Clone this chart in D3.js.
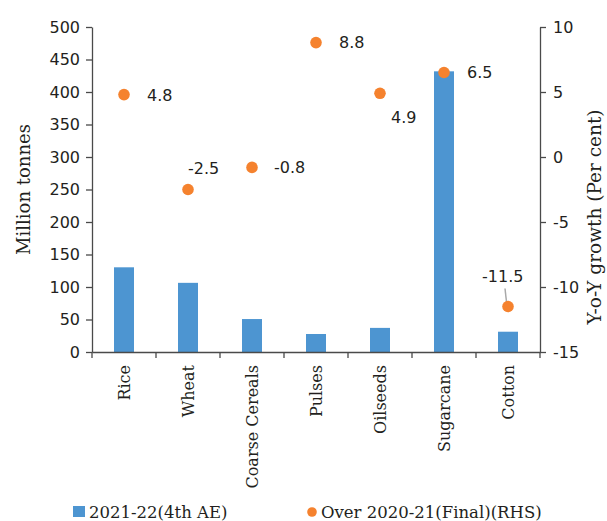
<!DOCTYPE html>
<html>
<head>
<meta charset="utf-8">
<script src="https://cdn.jsdelivr.net/npm/d3@7"></script>
<style>
  html, body { margin: 0; padding: 0; background: #fff; }
  svg { display: block; }
  .num { font-family: "DejaVu Sans", sans-serif; font-size: 16px; fill: #231f20; }
  .ser { font-family: "DejaVu Serif", serif; fill: #231f20; }
  .axis path, .axis line { stroke: #4a4a4a; stroke-width: 1.3px; }
</style>
</head>
<body>
<svg id="chart" width="607" height="521"></svg>
<script>
// Crop production 2021-22 (4th advance estimates) and y-o-y growth over 2020-21
const categories = ["Rice", "Wheat", "Coarse Cereals", "Pulses", "Oilseeds", "Sugarcane", "Cotton"];
const production = [130.3, 106.4, 50.7, 27.7, 37.1, 431.8, 31.2];   // million tonnes
const growth = [4.8, -2.5, -0.8, 8.8, 4.9, 6.5, -11.5];              // per cent (RHS)
const leftTicks = [0, 50, 100, 150, 200, 250, 300, 350, 400, 450, 500];
const rightTicks = [-15, -10, -5, 0, 5, 10];
const seriesNames = ["2021-22(4th AE)", "Over 2020-21(Final)(RHS)"];

// placement of each growth label relative to its dot
const labelShift = [[23, 1], [0, -21], [22, 0], [23, 0], [11, 24], [23, 0], [-26, -30]];

const blue = "#4d95d1", orange = "#f5822e";
const svg = d3.select("#chart");

const plotLeft = 92, plotRight = 540, plotTop = 27, plotBottom = 352;

const x = d3.scaleBand().domain(categories).range([plotLeft, plotRight]).paddingInner(0).paddingOuter(0);
const yL = d3.scaleLinear().domain([0, 500]).range([plotBottom, plotTop]);
const yR = d3.scaleLinear().domain([-15, 10]).range([plotBottom, plotTop]);

// plain hyphen for negatives
const fmt = d => String(d);

// bars
svg.append("g").selectAll("rect")
  .data(categories)
  .join("rect")
  .attr("x", d => x(d) + x.bandwidth() / 2 - 10)
  .attr("width", 20)
  .attr("y", (d, i) => yL(production[i]))
  .attr("height", (d, i) => yL(0) - yL(production[i]))
  .attr("fill", blue);

// left axis
const gL = svg.append("g").attr("class", "axis")
  .attr("transform", `translate(${plotLeft},0)`)
  .call(d3.axisLeft(yL).tickValues(leftTicks).tickFormat(fmt).tickSize(6).tickPadding(6).tickSizeOuter(0));
gL.selectAll("text").attr("class", "num").attr("font-family", null).attr("font-size", null);

// right axis
const gR = svg.append("g").attr("class", "axis")
  .attr("transform", `translate(${plotRight},0)`)
  .call(d3.axisRight(yR).tickValues(rightTicks).tickFormat(fmt).tickSize(6).tickPadding(7).tickSizeOuter(0));
gR.selectAll("text").attr("class", "num").attr("font-family", null).attr("font-size", null);

// bottom axis with ticks at category boundaries
const gB = svg.append("g").attr("class", "axis")
  .attr("transform", `translate(0,${plotBottom})`)
  .call(d3.axisBottom(x).tickSize(0).tickSizeOuter(0).tickFormat(""));
gB.selectAll(".tick").remove();
const bounds = categories.map(c => x(c)).concat([x(categories[categories.length - 1]) + x.bandwidth()]);
gB.selectAll("line.sep").data(bounds).join("line")
  .attr("class", "sep")
  .attr("x1", d => d).attr("x2", d => d)
  .attr("y1", 0).attr("y2", 6);

// category labels, rotated
svg.append("g").selectAll("text")
  .data(categories)
  .join("text")
  .attr("class", "ser")
  .attr("font-size", 16)
  .attr("text-anchor", "end")
  .attr("transform", d => `translate(${x(d) + x.bandwidth() / 2},365) rotate(-90)`)
  .attr("dy", "0.38em")
  .text(d => d);

// axis titles
svg.append("text").attr("class", "ser").attr("font-size", 18)
  .attr("text-anchor", "middle")
  .attr("transform", `translate(30,${(plotTop + plotBottom) / 2}) rotate(-90)`)
  .text("Million tonnes");
svg.append("text").attr("class", "ser").attr("font-size", 18.5)
  .attr("text-anchor", "middle")
  .attr("transform", `translate(601,217) rotate(-90)`)
  .text("Y-o-Y growth (Per cent)");

// leader line for the cotton label
const ci = categories.indexOf("Cotton");
const cx = x("Cotton") + x.bandwidth() / 2;
svg.append("line")
  .attr("x1", cx - 3).attr("y1", yR(growth[ci]) - 18)
  .attr("x2", cx - 1).attr("y2", yR(growth[ci]))
  .attr("stroke", "#a9a9a9").attr("stroke-width", 1.5);

// growth dots
svg.append("g").selectAll("circle")
  .data(categories)
  .join("circle")
  .attr("cx", d => x(d) + x.bandwidth() / 2)
  .attr("cy", (d, i) => yR(growth[i]))
  .attr("r", 5.8)
  .attr("fill", orange);

// growth labels
svg.append("g").selectAll("text")
  .data(categories)
  .join("text")
  .attr("class", "num")
  .attr("x", (d, i) => x(d) + x.bandwidth() / 2 + labelShift[i][0])
  .attr("y", (d, i) => yR(growth[i]) + labelShift[i][1])
  .attr("dy", "0.36em")
  .text((d, i) => growth[i].toFixed(1));

// legend
const lg = svg.append("g");
lg.append("rect").attr("x", 73).attr("y", 506).attr("width", 12).attr("height", 11).attr("fill", blue);
lg.append("text").attr("class", "ser").attr("font-size", 16.5)
  .attr("x", 89).attr("y", 518).text(seriesNames[0]);
lg.append("circle").attr("cx", 312).attr("cy", 512).attr("r", 4.8).attr("fill", orange);
lg.append("text").attr("class", "ser").attr("font-size", 16.5)
  .attr("x", 321).attr("y", 518).text(seriesNames[1]);
</script>
</body>
</html>
